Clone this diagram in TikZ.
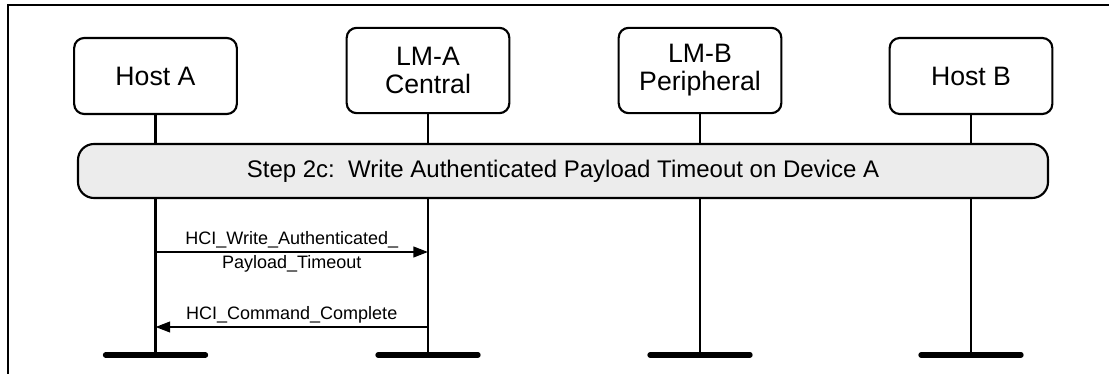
\documentclass[tikz,border=0pt]{standalone}
\usepackage{fontspec}
\setmainfont{Liberation Sans}
\usetikzlibrary{positioning,arrows.meta}

\begin{document}
\begin{tikzpicture}[
  x=0.75pt, y=-0.75pt,
  entity/.style={draw, rounded corners=7.5pt, line width=1.6pt, fill=white, align=center, inner sep=0pt, minimum width=122pt, font=\fontsize{20}{21}\selectfont},
  host/.style={entity, minimum height=57pt},
  lm/.style={entity, minimum height=64pt},
  lifeline/.style={line width=1.6pt},
  stepband/.style={draw, rounded corners=12pt, line width=1.6pt, fill=gray!15, minimum width=727.5pt, minimum height=40.5pt, font=\fontsize{18}{20}\selectfont},
  msg/.style={-{Triangle[length=11pt,width=8pt]}, line width=1.6pt},
  msglabel/.style={font=\fontsize{13.5}{14}\selectfont, inner sep=2pt},
  endbar/.style={line width=4pt, line cap=round}
]
\useasboundingbox (0,0) rectangle (1109,374);
\draw[line width=2pt] (8,374) -- (8,5) -- (1109,5);

\node[host] (hosta) at (155.5,76) {Host A};
\node[lm] (lma) at (428,70.5) {LM-A\\Central};
\node[lm] (lmb) at (700,70.5) {LM-B\\Peripheral};
\node[host] (hostb) at (971,76) {Host B};

\coordinate (bot) at (0,355);
\coordinate (y1) at (0,252);
\coordinate (y2) at (0,327);

\draw[lifeline] (hosta.south) -- (hosta |- bot);
\draw[lifeline] (lma.south) -- (lma |- bot);
\draw[lifeline] (lmb.south) -- (lmb |- bot);
\draw[lifeline] (hostb.south) -- (hostb |- bot);

\node[stepband] (step) at (563,171) {Step 2c:\ \ Write Authenticated Payload Timeout on Device A};

\draw[msg] (hosta |- y1) -- node[msglabel, above] {HCI\_Write\_Authenticated\_} node[msglabel, below] {Payload\_Timeout} (lma |- y1);
\draw[msg] (lma |- y2) -- node[msglabel, above] {HCI\_Command\_Complete} (hosta |- y2);

\draw[endbar] ([xshift=-37.5pt]hosta |- bot) -- ([xshift=37.5pt]hosta |- bot);
\draw[endbar] ([xshift=-37.5pt]lma |- bot) -- ([xshift=37.5pt]lma |- bot);
\draw[endbar] ([xshift=-37.5pt]lmb |- bot) -- ([xshift=37.5pt]lmb |- bot);
\draw[endbar] ([xshift=-37.5pt]hostb |- bot) -- ([xshift=37.5pt]hostb |- bot);
\end{tikzpicture}
\end{document}
